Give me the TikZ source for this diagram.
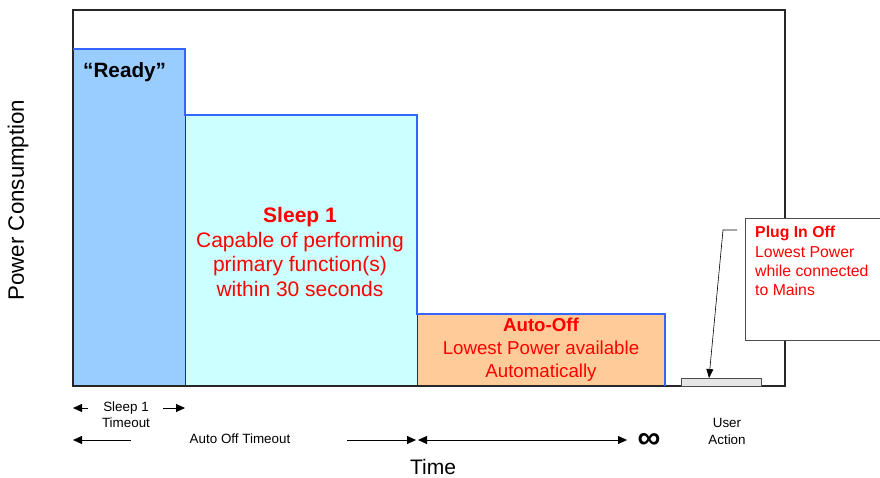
\documentclass[tikz,border=0pt]{standalone}
\usepackage{fontspec}
\setmainfont{Liberation Sans}
\usetikzlibrary{arrows.meta}
\definecolor{readyfill}{HTML}{99CCFF}
\definecolor{sleepfill}{HTML}{CCFFFF}
\definecolor{offfill}{HTML}{FFCC99}
\definecolor{stepblue}{HTML}{3366FF}
\definecolor{lblred}{HTML}{FF0000}
\definecolor{plugfill}{HTML}{E6E6E6}
\tikzset{
  big/.style={font=\fontsize{21.5}{25}\selectfont, inner sep=0pt, align=center},
  lbl/.style={font=\fontsize{13.4}{16}\selectfont, inner sep=0pt, align=center},
  redtxt/.style={text=lblred},
  tarrow/.style={-{Triangle[length=9pt,width=8pt]}, line width=0.8pt},
}
\begin{document}
\begin{tikzpicture}[x=1pt,y=-1pt]
\useasboundingbox (0,0) rectangle (880,477);
% fills
\fill[readyfill] (73,49) rectangle (185,386);
\fill[sleepfill] (185,115) rectangle (417,386);
\fill[offfill] (417,314) rectangle (665,386);
\draw[line width=0.8pt, black!80] (185,115) -- (185,386) (417,314) -- (417,386);
% frame
\draw[line width=1.3pt, black!85] (73,10) rectangle (785,386);
% blue step outline
\draw[stepblue, line width=2.6pt, line join=miter] (73,49) -- (185,49) -- (185,115) -- (417,115) -- (417,314) -- (665,314) -- (665,386);
% plug in off box
\draw[fill=plugfill, draw=black!70, line width=0.6pt] (681,386) rectangle (761,378);
\coordinate (plugtop) at (709,378);
% callout
\node[draw=black!70, fill=white, line width=0.9pt, minimum width=137pt, minimum height=122pt, inner sep=0pt, anchor=north west] (callout) at (745,218) {};
\node[anchor=north west, redtxt, font=\fontsize{15.8}{19.4}\selectfont, align=left, inner sep=0pt] (plugtxt) at (755,226)
  {\textbf{Plug In Off}\\Lowest Power\\while connected\\to Mains};
\coordinate (cstart) at (737,230);
\coordinate (cknee) at (723,230);
\draw[-{Triangle[length=9pt,width=7pt]}, line width=0.6pt] (cstart) -- (cknee) -- (plugtop);
% texts
\node[big, font=\fontsize{20.7}{24}\selectfont\bfseries, anchor=west] (ready) at (83,72) {“Ready”};
\node[big, redtxt, font=\fontsize{21}{24.5}\selectfont] (sleep) at (300,252)
  {\textbf{Sleep 1}\\Capable of performing\\primary function(s)\\within 30 seconds};
\node[big, redtxt, font=\fontsize{18.7}{23}\selectfont] (autooff) at (541,350)
  {\textbf{Auto-Off}\\Lowest Power available\\Automatically};
\node[big, rotate=90, font=\fontsize{22.3}{26}\selectfont] (ylab) at (18,200) {Power Consumption};
\node[big, font=\fontsize{21}{24}\selectfont] (xlab) at (433,466.5) {Time};
% bottom arrows
\node[lbl, font=\fontsize{13.4}{16}\selectfont] (s1t) at (126,415) {Sleep 1\\Timeout};
\coordinate (s1l0) at (88,408); \coordinate (s1l1) at (73,408);
\coordinate (s1r0) at (163,408); \coordinate (s1r1) at (185,408);
\draw[tarrow] (s1l0) -- (s1l1);
\draw[tarrow] (s1r0) -- (s1r1);
\node[lbl] (aot) at (240,439) {Auto Off Timeout};
\coordinate (a0) at (131,440); \coordinate (a1) at (73,440);
\coordinate (b0) at (347,440); \coordinate (b1) at (416,440);
\coordinate (c0) at (418,440); \coordinate (c1) at (627,440);
\draw[tarrow] (a0) -- (a1);
\draw[tarrow] (b0) -- (b1);
\draw[tarrow, {Triangle[length=9pt,width=8pt]}-{Triangle[length=9pt,width=8pt]}] (c0) -- (c1);
\node[inner sep=0pt, font=\fontsize{32}{32}\selectfont\bfseries] (inf) at (649,441) {∞};
\node[lbl, font=\fontsize{13.4}{17}\selectfont] (ua) at (727,431) {User\\Action};
\end{tikzpicture}
\end{document}
